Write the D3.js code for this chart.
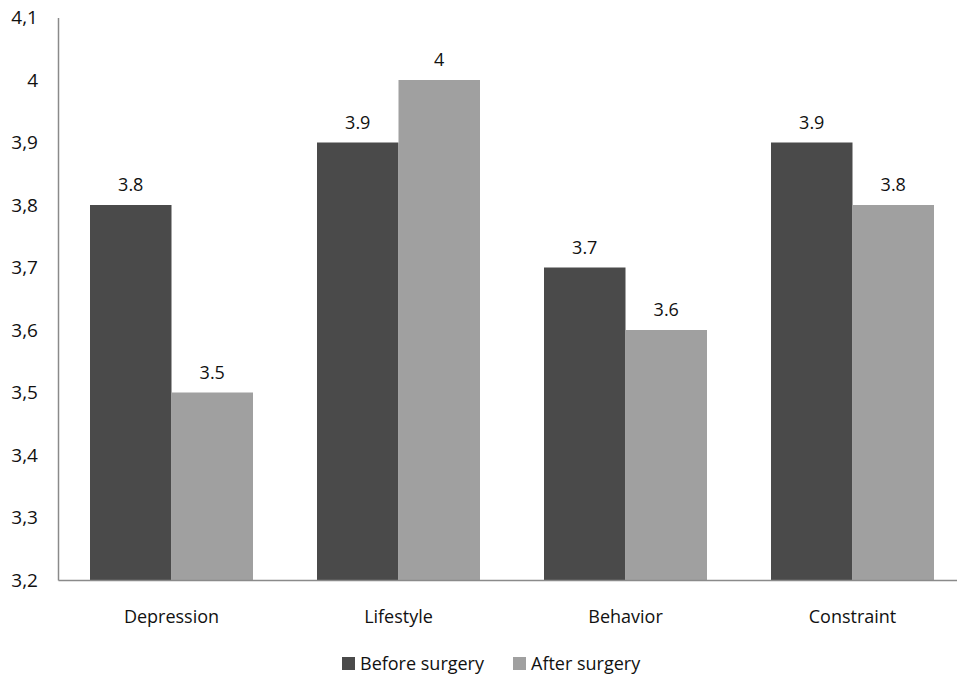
<!DOCTYPE html>
<html><head><meta charset="utf-8">
<script src="https://cdn.jsdelivr.net/npm/d3@7"></script>
<style>body{margin:0;background:#fff;} svg{display:block;} text{font-family:"Open Sans","Liberation Sans",sans-serif;fill:#111;}</style>
</head><body>
<svg id="c" width="957" height="684"></svg>
<script>
const categories = ["Depression","Lifestyle","Behavior","Constraint"];
const seriesNames = ["Before surgery","After surgery"];
const beforeValues = [3.8, 3.9, 3.7, 3.9];
const afterValues = [3.5, 4.0, 3.6, 3.8];
const tickValues = [3.2,3.3,3.4,3.5,3.6,3.7,3.8,3.9,4.0,4.1];
const tickLabels = ["3,2","3,3","3,4","3,5","3,6","3,7","3,8","3,9","4","4,1"];
const valueLabels = [["3.8","3.9","3.7","3.9"],["3.5","4","3.6","3.8"]];
const colors = ["#4a4a4a","#a0a0a0"];

const svg = d3.select("#c");
const x0 = d3.scaleBand().domain(categories).range([58, 966]).paddingInner(0).paddingOuter(0);
const x1 = d3.scaleBand().domain(seriesNames).range([32, 227-32]);
const y = d3.scaleLinear().domain([3.2, 4.1]).range([580, 17.5]);

const series = [beforeValues, afterValues];
const g = svg.append("g");
series.forEach((vals, si) => {
  categories.forEach((c, ci) => {
    const bx = x0(c) + x1(seriesNames[si]);
    const by = y(vals[ci]);
    g.append("rect").attr("x", bx).attr("y", by).attr("width", x1.bandwidth())
      .attr("height", y(3.2) - by).attr("fill", colors[si]);
    g.append("text").attr("x", bx + x1.bandwidth()/2).attr("y", by - 14)
      .attr("text-anchor", "middle").attr("font-size", 18).text(valueLabels[si][ci]);
  });
});

// y axis
const yAxis = d3.axisLeft(y).tickValues(tickValues).tickSize(0).tickPadding(20)
  .tickFormat((d,i) => tickLabels[i]);
const ya = svg.append("g").attr("transform", "translate(58,0)").call(yAxis);
ya.select(".domain").attr("stroke", "#8a8a8a").attr("stroke-width", 1.5);
ya.selectAll("text").attr("font-size", 19).attr("fill", "#111").style("font-family", '"Open Sans",sans-serif');

// x axis
const xAxis = d3.axisBottom(x0).tickSize(0).tickPadding(30);
const xa = svg.append("g").attr("transform", "translate(0,580)").call(xAxis);
xa.select(".domain").attr("stroke", "#8a8a8a").attr("stroke-width", 1.5);
xa.selectAll("text").attr("font-size", 18).attr("fill", "#111").style("font-family", '"Open Sans",sans-serif');

// legend
const legend = svg.append("g");
const legX = [342, 513];
seriesNames.forEach((n, i) => {
  legend.append("rect").attr("x", legX[i]).attr("y", 657).attr("width", 13).attr("height", 13).attr("fill", colors[i]);
  legend.append("text").attr("x", legX[i] + 18).attr("y", 670).attr("font-size", 18).text(n);
});
</script>
</body></html>
